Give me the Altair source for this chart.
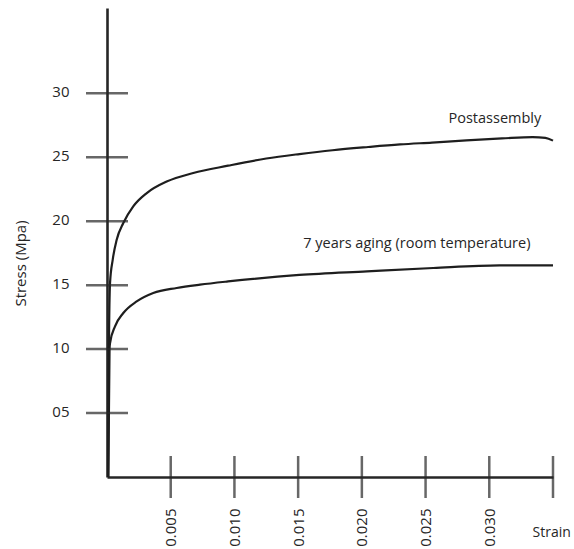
import altair as alt
import pandas as pd

# ---- data ----
post_strain = [0.0001, 0.00015, 0.00024, 0.00045, 0.00076, 0.00128, 0.00206, 0.00312,
               0.00468, 0.00677, 0.0095, 0.0125, 0.0151, 0.0177, 0.0205, 0.023,
               0.0255, 0.0282, 0.031, 0.0334, 0.0344, 0.035]
post_stress = [0, 10, 15.2, 17.0, 18.55, 19.86, 21.16, 22.2,
               23.1, 23.77, 24.34, 24.9, 25.25, 25.55, 25.8, 26.0,
               26.15, 26.32, 26.47, 26.58, 26.52, 26.3]

aged_strain = [0.0001, 0.0002, 0.00024, 0.00063, 0.00128, 0.00233, 0.00363, 0.00547,
               0.0073, 0.0095, 0.0151, 0.0204, 0.0256, 0.0308, 0.035]
aged_stress = [0, 10.0, 10.48, 11.78, 12.82, 13.73, 14.39, 14.78,
               15.04, 15.29, 15.8, 16.08, 16.34, 16.54, 16.55]

series_names = ["Postassembly", "7 years aging (room temperature)"]
label_strain = [0.0268, 0.0154]
label_stress = [28.0, 18.2]

y_ticks = [5, 10, 15, 20, 25, 30]
x_ticks = [0.005, 0.010, 0.015, 0.020, 0.025, 0.030, 0.035]
x_labels = [0.005, 0.010, 0.015, 0.020, 0.025, 0.030]

# ---- tables ----
curves = pd.concat([
    pd.DataFrame({"strain": post_strain, "stress": post_stress, "series": series_names[0]}),
    pd.DataFrame({"strain": aged_strain, "stress": aged_stress, "series": series_names[1]}),
])
labels = pd.DataFrame({"strain": label_strain, "stress": label_stress, "text": series_names})
yt = pd.DataFrame({"stress": y_ticks, "strain": [0] * len(y_ticks)})
xt = pd.DataFrame({"strain": x_ticks, "stress": [0] * len(x_ticks)})

FONT = "Open Sans"
INK = "#262626"

xs = alt.Scale(domain=[0, 0.035], nice=False, zero=False)
ys = alt.Scale(domain=[0, 36.67], nice=False, zero=False)

x_axis = alt.Axis(
    values=x_labels, format=".3f", labelAngle=-90, grid=False,
    domainColor=INK, domainWidth=2.6, tickSize=21, tickOpacity=0, labelPadding=10,
    labelFont=FONT, labelFontSize=15, labelColor=INK,
    title="Strain", titleFont=FONT, titleFontSize=14, titleFontWeight="normal",
    titleColor=INK, titleAngle=0, titleAlign="left", titleBaseline="middle",
    titleX=425, titleY=55)
y_axis = alt.Axis(
    values=y_ticks, format="02d", grid=False,
    domainColor=INK, domainWidth=2.6, tickSize=21, tickOpacity=0, labelPadding=17,
    labelFont=FONT, labelFontSize=15, labelColor=INK, labelOffset=-2,
    title="Stress (Mpa)", titleFont=FONT, titleFontSize=15, titleFontWeight="normal",
    titleColor=INK, titleAngle=-90, titleAlign="center", titleBaseline="middle",
    titleX=-87, titleY=255)

X = alt.X("strain:Q", scale=xs, axis=x_axis, title="Strain")
Y = alt.Y("stress:Q", scale=ys, axis=y_axis, title="Stress (Mpa)")

lines = alt.Chart(curves).mark_line(color="#1e1e1e", strokeWidth=2.2, interpolate="monotone").encode(
    x=X, y=Y, detail="series:N",
)
ytick = alt.Chart(yt).mark_tick(orient="horizontal", size=42, thickness=2.5, color=INK).encode(
    x=X, y=Y,
)
xtick = alt.Chart(xt).mark_tick(orient="vertical", size=42, thickness=2.5, color=INK).encode(
    x=X, y=Y,
)
text = alt.Chart(labels).mark_text(align="left", baseline="middle", font=FONT, fontSize=14.5,
                                   color=INK).encode(
    x=X, y=Y, text="text:N",
)

chart = alt.layer(lines, ytick, xtick, text).properties(
    width=446, height=469,
    autosize=alt.AutoSizeParams(type="none"),
    padding={"left": 107, "top": 8, "right": 21, "bottom": 72},
    background="white",
).configure_view(stroke=None)

chart.save("out.html", embed_options={"renderer": "svg", "actions": False})
